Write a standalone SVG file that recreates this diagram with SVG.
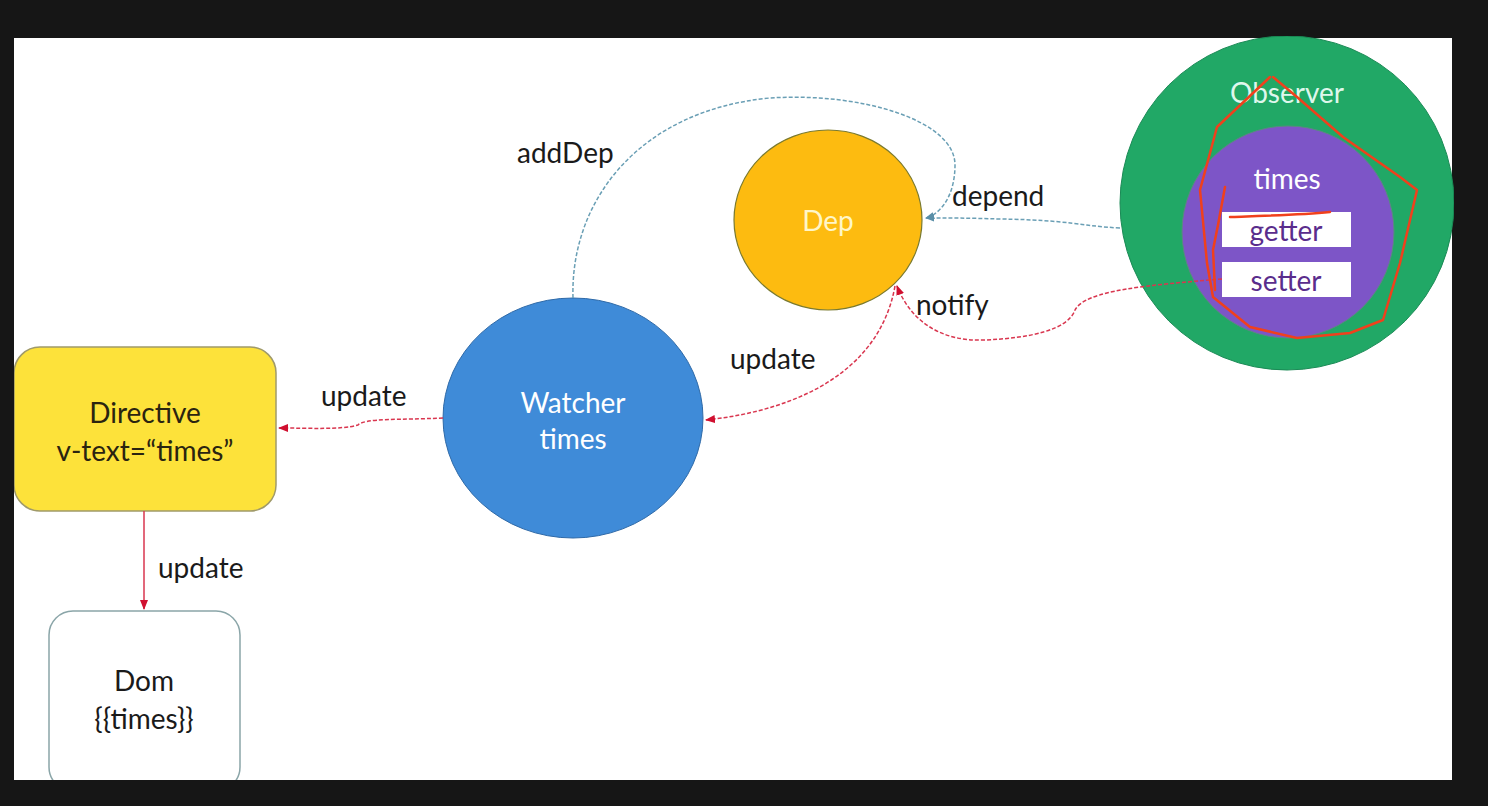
<svg xmlns="http://www.w3.org/2000/svg" width="1488" height="806" viewBox="0 0 1488 806">
<defs>
<style>
text{font-family:Lato,"Open Sans","Liberation Sans",sans-serif;text-anchor:middle;dominant-baseline:central}
.lbl{font-size:28px;fill:#1a1a1a;text-anchor:start}
.node{font-size:28px}
.blue{fill:none;stroke:#6a9fb5;stroke-width:1.5;stroke-dasharray:4 2}
.red{fill:none;stroke:#d9364f;stroke-width:1.5;stroke-dasharray:4 2}
.pen{fill:none;stroke:#f0401c;stroke-width:2.5;stroke-linejoin:round;stroke-linecap:round}
</style>
<marker id="ab" viewBox="0 0 10 10" refX="9" refY="5" markerWidth="9" markerHeight="9" orient="auto" markerUnits="userSpaceOnUse"><path d="M0,1 L10,5 L0,9 Z" fill="#5a8fa8"/></marker>
<marker id="ar" viewBox="0 0 10 10" refX="9" refY="5" markerWidth="10" markerHeight="10" orient="auto" markerUnits="userSpaceOnUse"><path d="M0,1 L10,5 L0,9 Z" fill="#d01030"/></marker>
<clipPath id="slide"><rect x="14" y="36" width="1440" height="744"/></clipPath>
</defs>
<rect width="1488" height="806" fill="#161616"/>
<rect x="14" y="38" width="1438" height="742" fill="#ffffff"/>
<g clip-path="url(#slide)">
<g id="directive">
<rect x="14" y="347" width="262" height="164" rx="26" fill="#fde23a" stroke="#a09a6a" stroke-width="1.5"/>
<text class="node" x="145" y="412" fill="#2a2410">Directive</text>
<text class="node" x="145" y="450" fill="#2a2410">v-text=“times”</text>
</g>
<g id="dom">
<rect x="49" y="611" width="191" height="180" rx="24" fill="#ffffff" stroke="#8aa5a8" stroke-width="1.5"/>
<text class="node" x="144" y="680" fill="#1a1a1a">Dom</text>
<text class="node" x="144" y="718" fill="#1a1a1a">{{times}}</text>
</g>
<g id="watcher">
<ellipse cx="573" cy="418" rx="130" ry="120" fill="#3f8bd8" stroke="#2f6aa8" stroke-width="1"/>
<text class="node" x="573" y="402" fill="#ffffff">Watcher</text>
<text class="node" x="573" y="438" fill="#ffffff">times</text>
</g>
<g id="dep">
<ellipse cx="828" cy="220" rx="94" ry="90" fill="#fdbb10" stroke="#7a7a30" stroke-width="1.2"/>
<text class="node" x="828" y="220" fill="#fff6c8">Dep</text>
</g>
<g id="observer">
<circle cx="1287" cy="203" r="167" fill="#21a866" stroke="#1a8a55" stroke-width="1"/>
<text class="node" x="1287" y="92" fill="#dff7ec">Observer</text>
</g>
<g id="times">
<circle cx="1288" cy="232" r="106" fill="#7d55c7" stroke="#5a8a80" stroke-width="1"/>
<text class="node" x="1287" y="178" fill="#ffffff">times</text>
</g>
<g id="getter">
<rect x="1222" y="212" width="129" height="35" fill="#ffffff"/>
<text class="node" x="1286" y="230" fill="#5a2d8c">getter</text>
</g>
<g id="setter">
<rect x="1222" y="262" width="129" height="35" fill="#ffffff"/>
<text class="node" x="1286" y="280" fill="#5a2d8c">setter</text>
</g>
<g id="connectors">
<path class="blue" d="M573,298 C570,200 640,110 770,98 C860,92 955,120 955,165 C955,190 945,212 926,218" marker-end="url(#ab)"/>
<path class="blue" d="M1120,228 C1080,226 1070,220 1000,219 C970,218 950,218 926,218" marker-end="url(#ab)"/>
<path class="red" d="M1222,279 C1150,285 1085,290 1075,310 C1068,330 1030,338 985,340 C940,342 910,320 897,286" marker-end="url(#ar)"/>
<path class="red" d="M895,286 C880,370 800,410 706,420" marker-end="url(#ar)"/>
<path class="red" d="M443,418 C400,420 365,418 358,425 C340,430 310,428 279,428" marker-end="url(#ar)"/>
<path d="M144,511 L144,609" fill="none" stroke="#d9364f" stroke-width="1.5" marker-end="url(#ar)"/>
</g>
<g id="labels">
<text class="lbl" x="517" y="152">addDep</text>
<text class="lbl" x="952" y="195">depend</text>
<text class="lbl" x="916" y="304">notify</text>
<text class="lbl" x="730" y="358">update</text>
<text class="lbl" x="321" y="395">update</text>
<text class="lbl" x="158" y="567">update</text>
</g>
<g id="annotation">
<path class="pen" d="M1273,77 L1297,97 L1343,137 L1400,177 L1417,190 L1400,263 L1383,320 L1350,333 L1297,338 L1250,327 L1213,297 L1207,263 L1200,190 L1217,127 L1270,77"/>
<path class="pen" d="M1225,187 L1218,225 L1213,250 L1215,290"/>
<path class="pen" d="M1230,217 C1260,216 1300,215 1330,212"/>
</g>
</g>
</svg>
